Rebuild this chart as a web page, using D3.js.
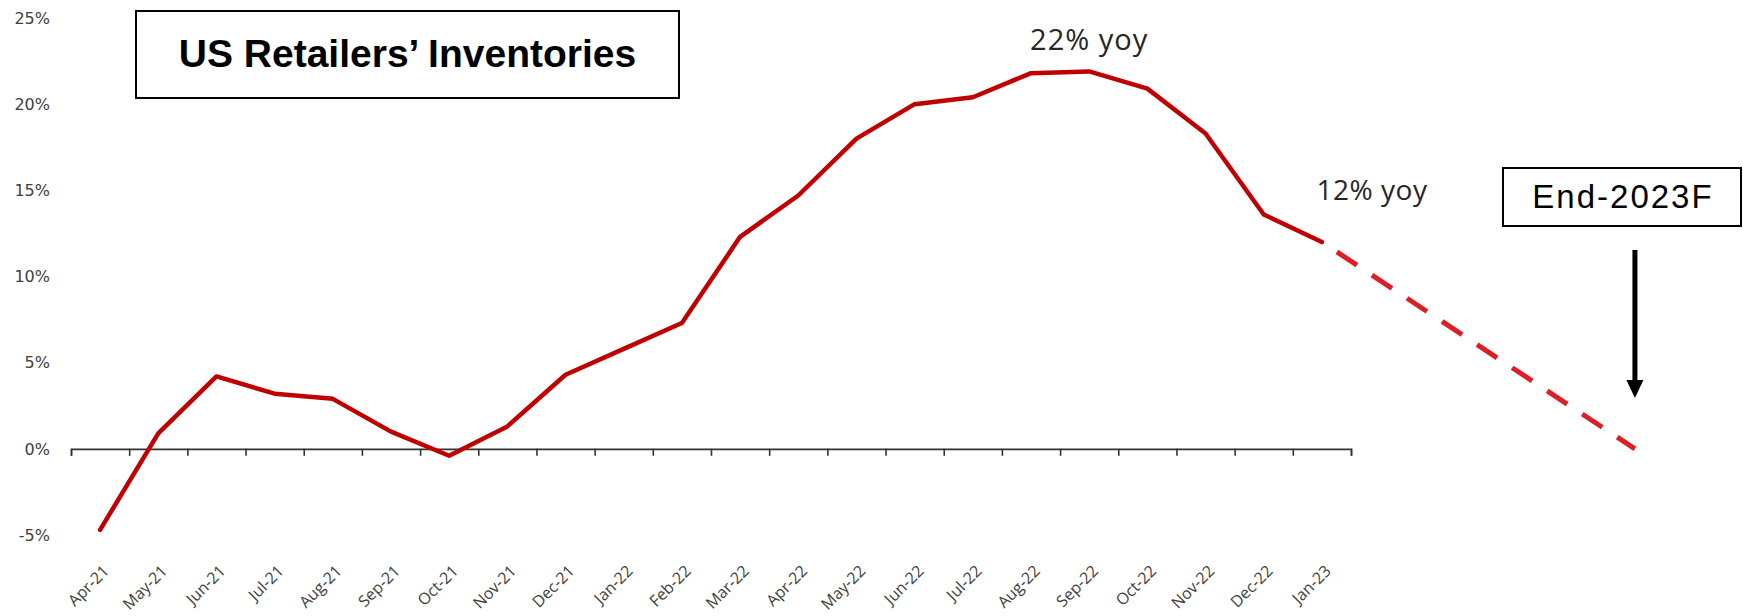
<!DOCTYPE html>
<html>
<head>
<meta charset="utf-8">
<script src="https://cdn.jsdelivr.net/npm/d3@7"></script>
<style>
  html, body { margin: 0; padding: 0; background: #ffffff; }
  svg { display: block; }
</style>
</head>
<body>
<svg id="chart" width="1743" height="616"></svg>
<script>
// Monthly year-over-year change in US retailers' inventories (%)
const months = ["Apr-21", "May-21", "Jun-21", "Jul-21", "Aug-21", "Sep-21", "Oct-21", "Nov-21",
                "Dec-21", "Jan-22", "Feb-22", "Mar-22", "Apr-22", "May-22", "Jun-22", "Jul-22",
                "Aug-22", "Sep-22", "Oct-22", "Nov-22", "Dec-22", "Jan-23"];
const inventoryYoY = [-4.7, 0.9, 4.2, 3.2, 2.9, 1.0, -0.4, 1.3,
                      4.3, 5.8, 7.3, 12.3, 14.7, 18.0, 20.0, 20.4,
                      21.8, 21.9, 20.9, 18.3, 13.6, 12.0];
const yTickValues = [-5, 0, 5, 10, 15, 20, 25];

// Projected path from the latest reading down to the end-2023 forecast
const forecastIndex = [21, 26.38];
const forecastValues = [12.0, 0];

// Call-outs
const peakLabel = "22% yoy";
const latestLabel = "12% yoy";
const forecastLabel = "End-2023F";
const title = "US Retailers\u2019 Inventories";

const svg = d3.select("#chart");
const W = 1743, H = 616;
svg.append("rect").attr("width", W).attr("height", H).attr("fill", "#ffffff");

// Scales: category slots along x, percent along y
const xEdge = d3.scaleLinear().domain([0, months.length]).range([71, 1351]);
const xc = i => xEdge(i + 0.5);
const y = d3.scaleLinear().domain([-5, 25]).range([535, 18]);

// Y tick labels (no axis line)
svg.append("g")
  .selectAll("text")
  .data(yTickValues)
  .join("text")
  .attr("x", 50)
  .attr("y", d => y(d))
  .attr("dy", "0.36em")
  .attr("text-anchor", "end")
  .attr("font-family", "'DejaVu Sans', Verdana, sans-serif")
  .attr("font-size", 16)
  .attr("fill", "#404040")
  .text(d => d + "%");

// X axis along zero with ticks between categories
const xAxis = d3.axisBottom(xEdge)
  .tickValues(d3.range(0, months.length + 1))
  .tickSize(7)
  .tickSizeOuter(7)
  .tickFormat("");
const axisG = svg.append("g")
  .attr("transform", `translate(0,${y(0)})`)
  .call(xAxis);
axisG.select(".domain").attr("stroke", "#333333").attr("stroke-width", 1.6);
axisG.selectAll(".tick line").attr("stroke", "#333333").attr("stroke-width", 1.6);

// Category labels at the bottom, rotated
svg.append("g")
  .selectAll("text")
  .data(months)
  .join("text")
  .attr("transform", (d, i) => `translate(${xc(i) + 6},${568}) rotate(-45)`)
  .attr("dy", "0.35em")
  .attr("text-anchor", "end")
  .attr("font-family", "'Open Sans', 'Noto Sans', sans-serif")
  .attr("font-size", 16)
  .attr("fill", "#404040")
  .text(d => d);

// Actual series
const line = d3.line()
  .x((d, i) => xc(i))
  .y(d => y(d));
svg.append("path")
  .datum(inventoryYoY)
  .attr("d", line)
  .attr("fill", "none")
  .attr("stroke", "#c00000")
  .attr("stroke-width", 4.5)
  .attr("stroke-linejoin", "round")
  .attr("stroke-linecap", "round");

// Forecast, dashed
const fLine = d3.line()
  .x((d, i) => xc(forecastIndex[i]))
  .y(d => y(d));
svg.append("path")
  .datum(forecastValues)
  .attr("d", fLine)
  .attr("fill", "none")
  .attr("stroke", "#dc1f26")
  .attr("stroke-width", 5)
  .attr("stroke-dasharray", "24,18")
  .attr("stroke-dashoffset", 24);

// Value call-outs
const peakIdx = inventoryYoY.indexOf(d3.max(inventoryYoY));
const calloutFont = "'Open Sans', 'Noto Sans', sans-serif";
svg.append("text")
  .attr("x", xc(peakIdx))
  .attr("y", 50)
  .attr("text-anchor", "middle")
  .attr("font-family", calloutFont)
  .attr("font-size", 29)
  .attr("letter-spacing", 1)
  .attr("fill", "#262626")
  .text(peakLabel);

svg.append("text")
  .attr("x", 1372)
  .attr("y", 200)
  .attr("text-anchor", "middle")
  .attr("font-family", calloutFont)
  .attr("font-size", 28)
  .attr("letter-spacing", 0.5)
  .attr("fill", "#262626")
  .text(latestLabel);

// Title box
svg.append("rect")
  .attr("x", 136).attr("y", 11).attr("width", 543).attr("height", 87)
  .attr("fill", "#ffffff").attr("stroke", "#000000").attr("stroke-width", 2);
svg.append("text")
  .attr("x", 407.5).attr("y", 67)
  .attr("text-anchor", "middle")
  .attr("font-family", "'Liberation Sans', Arial, sans-serif")
  .attr("font-weight", "bold")
  .attr("font-size", 39)
  .attr("fill", "#000000")
  .text(title);

// Forecast box and arrow
const arrowX = xc(forecastIndex[1]);
svg.append("rect")
  .attr("x", 1503).attr("y", 168).attr("width", 238).attr("height", 58)
  .attr("fill", "#ffffff").attr("stroke", "#000000").attr("stroke-width", 2);
svg.append("text")
  .attr("x", 1623).attr("y", 208)
  .attr("text-anchor", "middle")
  .attr("font-family", "'Liberation Sans', Arial, sans-serif")
  .attr("font-size", 33)
  .attr("letter-spacing", 2)
  .attr("fill", "#000000")
  .text(forecastLabel);

svg.append("line")
  .attr("x1", arrowX).attr("x2", arrowX)
  .attr("y1", 250).attr("y2", 384)
  .attr("stroke", "#000000").attr("stroke-width", 5);
svg.append("path")
  .attr("d", `M${arrowX - 8.5},380 L${arrowX + 8.5},380 L${arrowX},398 Z`)
  .attr("fill", "#000000");
</script>
</body>
</html>
